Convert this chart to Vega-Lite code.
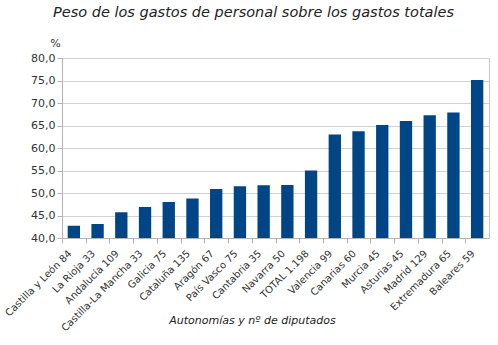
{
  "$schema": "https://vega.github.io/schema/vega-lite/v6.json",
  "width": 427,
  "height": 180,
  "autosize": {"type": "none"},
  "padding": {"left": 62, "top": 58, "right": 9, "bottom": 107},
  "background": "#ffffff",
  "title": {
    "text": "Peso de los gastos de personal sobre los gastos totales",
    "font": "DejaVu Sans",
    "fontSize": 14.5,
    "fontStyle": "italic",
    "fontWeight": "normal",
    "color": "#222222",
    "anchor": "middle",
    "dx": -22,
    "offset": 17
  },
  "config": {
    "view": {"stroke": "#c8c8c8"},
    "font": "DejaVu Sans"
  },
  "data": {
    "values": [
      {"region": "Castilla y León 84", "value": 42.7},
      {"region": "La Rioja 33", "value": 43.1},
      {"region": "Andalucía 109", "value": 45.7},
      {"region": "Castilla-La Mancha 33", "value": 46.9},
      {"region": "Galicia 75", "value": 48.0},
      {"region": "Cataluña 135", "value": 48.8},
      {"region": "Aragón 67", "value": 50.9},
      {"region": "País Vasco 75", "value": 51.5},
      {"region": "Cantabria 35", "value": 51.7},
      {"region": "Navarra 50", "value": 51.8},
      {"region": "TOTAL 1.198", "value": 55.0},
      {"region": "Valencia 99", "value": 63.0},
      {"region": "Canarias 60", "value": 63.7},
      {"region": "Murcia 45", "value": 65.1},
      {"region": "Asturias 45", "value": 66.0},
      {"region": "Madrid 129", "value": 67.3},
      {"region": "Extremadura 65", "value": 67.9},
      {"region": "Baleares 59", "value": 75.1}
    ]
  },
  "mark": {"type": "bar", "color": "#004586", "clip": true},
  "encoding": {
    "x": {
      "field": "region",
      "type": "nominal",
      "sort": null,
      "scale": {"paddingInner": 0.48, "paddingOuter": 0.24},
      "axis": {
        "title": "Autonomías y nº de diputados",
        "titleFont": "DejaVu Sans",
        "titleFontSize": 11,
        "titleFontStyle": "italic",
        "titleFontWeight": "normal",
        "titleColor": "#222222",
        "titleX": 190,
        "titleY": 76,
        "labelAngle": -45,
        "labelAlign": "right",
        "labelBaseline": "top",
        "labelFontSize": 10,
        "labelColor": "#333333",
        "labelPadding": 5,
        "labelOffset": 4,
        "tickOffset": -11.86,
        "tickSize": 5,
        "tickColor": "#b4b4b4",
        "domainColor": "#b4b4b4",
        "grid": false
      }
    },
    "y": {
      "field": "value",
      "type": "quantitative",
      "scale": {"domain": [40, 80], "zero": false, "nice": false},
      "axis": {
        "title": "%",
        "titleAngle": 0,
        "titleX": -7,
        "titleY": -10,
        "titleAlign": "center",
        "titleBaseline": "bottom",
        "titleFontWeight": "normal",
        "titleFontSize": 11,
        "titleColor": "#333333",
        "values": [40, 45, 50, 55, 60, 65, 70, 75, 80],
        "labelExpr": "replace(format(datum.value, '.1f'), '.', ',')",
        "labelFontSize": 11,
        "labelColor": "#333333",
        "tickSize": 5,
        "tickColor": "#b4b4b4",
        "domainColor": "#b4b4b4",
        "gridColor": "#d2d2d2",
        "labelPadding": 2
      }
    }
  }
}
